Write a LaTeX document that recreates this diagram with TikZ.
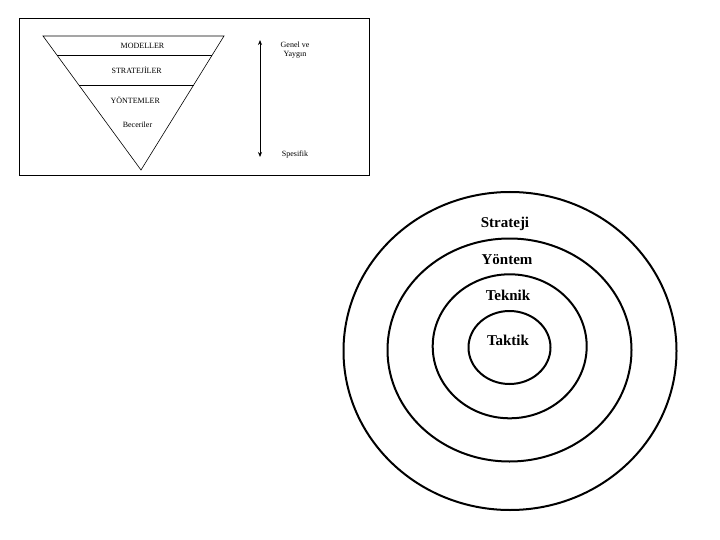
\documentclass[tikz,border=0pt]{standalone}
\usepackage{fontspec}
\setmainfont{Liberation Serif}
\usetikzlibrary{arrows.meta,shapes.geometric,calc}
\begin{document}
\begin{tikzpicture}[x=1pt,y=-1pt,
  small/.style={font=\fontsize{8}{9}\selectfont, inner sep=0pt},
  ring/.style={ellipse, draw, line width=2pt, inner sep=0pt},
  ringlabel/.style={font=\fontsize{15}{17}\selectfont\bfseries, inner sep=0pt},
  thin/.style={line width=0.6pt}]
\useasboundingbox (0,0) rectangle (720,540);
% frame
\draw[line width=1pt] (19,19) rectangle (369,176);
% triangle
\coordinate (tl) at (43,36);
\coordinate (tr) at (224,36);
\coordinate (ap) at (141,170);
\draw[thin] (tl) -- (tr) -- (ap) -- cycle;
\coordinate (l1a) at ($(tl)!0.142!(ap)$);
\coordinate (l1b) at ($(tr)!0.142!(ap)$);
\coordinate (l2a) at ($(tl)!0.366!(ap)$);
\coordinate (l2b) at ($(tr)!0.366!(ap)$);
\draw[thin] (l1a) -- (l1b);
\draw[thin] (l2a) -- (l2b);
\node[small] (mod) at (142.5,46) {MODELLER};
\node[small] (str) at (136.7,70) {STRATEJİLER};
\node[small] (yon) at (135.3,100) {YÖNTEMLER};
\node[small] (bec) at (137.5,125) {Beceriler};
% arrow
\coordinate (atop) at (260,40);
\coordinate (abot) at (260,157);
\draw[line width=0.8pt, {Stealth[length=5pt,width=4pt]}-{Stealth[length=5pt,width=4pt]}] (atop) -- (abot);
\node[small, align=center] (gen) at (295,50.5) {Genel ve\\Yaygın};
\node[small] (spe) at (295,155) {Spesifik};
% rings
\node[ring, minimum width=333pt, minimum height=318pt] (r1) at (510,351) {};
\node[ring, minimum width=244pt, minimum height=223pt] (r2) at (509.5,350) {};
\node[ring, minimum width=154pt, minimum height=144pt] (r3) at (509.7,346.3) {};
\node[ring, minimum width=82pt, minimum height=73pt] (r4) at (509.5,347.5) {};
\node[ringlabel] (t1) at (505,224) {Strateji};
\node[ringlabel] (t2) at (507,260) {Yöntem};
\node[ringlabel] (t3) at (508,295) {Teknik};
\node[ringlabel] (t4) at (508,340) {Taktik};
\end{tikzpicture}
\end{document}
